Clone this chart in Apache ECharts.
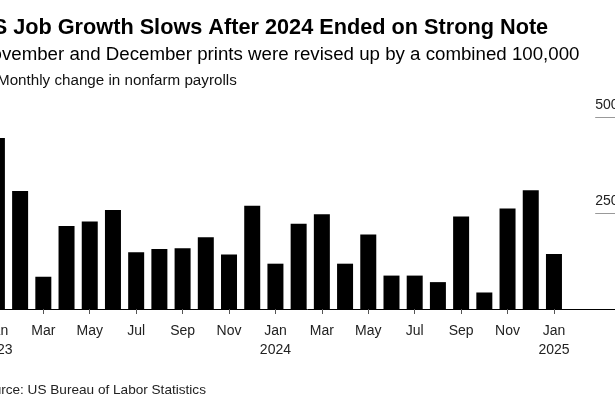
<!DOCTYPE html>
<html>
<head>
<meta charset="utf-8">
<script src="https://cdn.jsdelivr.net/npm/echarts@6/dist/echarts.min.js"></script>
<style>
html,body{margin:0;padding:0;background:#fff;}
#c{width:615px;height:410px;}
</style>
</head>
<body>
<div id="c"></div>
<script>
var titleText = 'US Job Growth Slows After 2024 Ended on Strong Note';
var subtitleText = 'November and December prints were revised up by a combined 100,000';
var unitText = 'Monthly change in nonfarm payrolls';
var sourceText = 'Source: US Bureau of Labor Statistics';

var months = ['Jan\n2023','Feb','Mar','Apr','May','Jun','Jul','Aug','Sep','Oct','Nov','Dec',
              'Jan\n2024','Feb','Mar','Apr','May','Jun','Jul','Aug','Sep','Oct','Nov','Dec',
              'Jan\n2025'];
var payrolls = [445, 307, 84, 216, 228, 258, 148, 156, 158, 187, 142, 269,
                118, 222, 247, 118, 194, 87, 87, 70, 241, 43, 262, 309,
                143];
var yTicks = [0, 250, 500];

var axisCats = months.concat(['', '', '']);
var FONT = '"Liberation Sans", Arial, Helvetica, sans-serif';

var chart = echarts.init(document.getElementById('c'), null, {renderer: 'canvas'});
chart.setOption({
  backgroundColor: '#fff',
  animation: false,
  textStyle: {fontFamily: FONT},
  grid: {left: -14.7, width: 649.9, top: 117, bottom: 101, containLabel: false, outerBoundsMode: 'none'},
  xAxis: {
    type: 'category',
    data: axisCats,
    z: 5,
    axisLine: {show: true, lineStyle: {color: '#000', width: 1}},
    axisTick: {
      show: true, alignWithLabel: true, length: 5,
      interval: function (i) { return i % 2 === 0 && i < months.length; },
      lineStyle: {color: '#555'}
    },
    axisLabel: {
      interval: 1, margin: 13, fontSize: 14, color: '#222', lineHeight: 19,
      fontFamily: FONT, hideOverlap: false
    },
    splitLine: {show: false}
  },
  yAxis: {
    type: 'value',
    position: 'right',
    offset: -20,
    min: yTicks[0], max: yTicks[yTicks.length - 1], interval: yTicks[1] - yTicks[0],
    z: 1,
    axisLine: {show: false},
    axisTick: {show: true, inside: true, length: 20, lineStyle: {color: '#999'}},
    splitLine: {show: false},
    axisLabel: {
      inside: true, margin: 20, align: 'left', verticalAlign: 'bottom',
      padding: [0, 0, 5, 0], showMinLabel: false,
      fontSize: 14, color: '#222', fontFamily: FONT
    }
  },
  series: [{
    type: 'bar',
    data: payrolls,
    barWidth: 16,
    itemStyle: {color: '#000'}
  }],
  graphic: [
    {type: 'text', left: -23, top: 17, style: {text: titleText, font: 'bold 21.7px ' + FONT, fill: '#000'}},
    {type: 'text', left: -22, top: 45, style: {text: subtitleText, font: '18.7px ' + FONT, fill: '#000'}},
    {type: 'text', left: -3, top: 73, style: {text: unitText, font: '15.2px ' + FONT, fill: '#111'}},
    {type: 'text', left: -23, top: 383, style: {text: sourceText, font: '13.6px ' + FONT, fill: '#222'}}
  ]
});
</script>
</body>
</html>
